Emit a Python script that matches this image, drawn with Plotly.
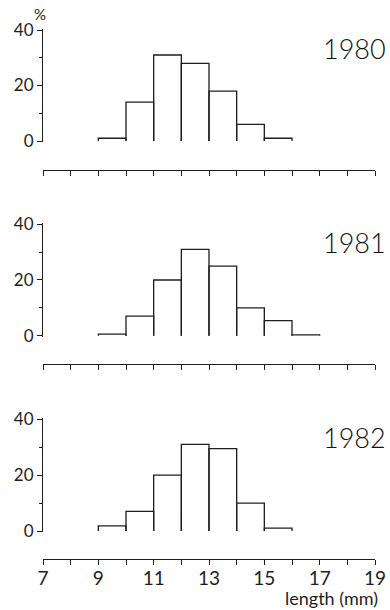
import plotly.graph_objects as go

# Data
bin_edges = [9, 10, 11, 12, 13, 14, 15, 16, 17]
years = ["1980", "1981", "1982"]
pct_1980 = [1, 14, 31, 28, 18, 6, 1]
pct_1981 = [0.6, 7, 20, 31, 25, 10, 5.4, 0.3]
pct_1982 = [1.8, 7, 20, 31, 29.5, 10, 1]
series = [pct_1980, pct_1981, pct_1982]
x_ticks = list(range(7, 20))
x_tick_labels = [str(v) if v % 2 == 1 else "" for v in x_ticks]
y_ticks = [0, 20, 40]
y_minor = [10, 30]

W, H = 390, 610
FONT = "Lato"
INK = "#1e1e1e"

# panel geometry in pixels: (y=0 pixel, y=40 pixel, x-axis pixel)
panels = [(141.0, 30.0, 170.0), (335.7, 224.3, 363.7), (531.0, 419.3, 559.0)]
x_left_px, x_right_px = 43.0, 375.0
YPAD = 0.4

fig = go.Figure()
layout = dict(width=W, height=H, margin=dict(l=0, r=0, t=0, b=0, autoexpand=False),
              plot_bgcolor="white", paper_bgcolor="white", showlegend=False,
              font=dict(family=FONT, color=INK))

for i, (vals, yr) in enumerate(zip(series, years)):
    n = i + 1
    xs, ys = [], []
    for j, h in enumerate(vals):
        a, b = bin_edges[j], bin_edges[j + 1]
        xs += [a, a, b, b, None]
        ys += [0, h, h, 0, None]
    xa = "x" if n == 1 else f"x{n}"
    ya = "y" if n == 1 else f"y{n}"
    fig.add_trace(go.Scatter(x=xs, y=ys, mode="lines", xaxis=xa, yaxis=ya,
                             line=dict(color=INK, width=1.3), hoverinfo="skip"))
    y0p, y40p, xap = panels[i]
    k = (y0p - y40p) / 40.0
    bot = y0p + YPAD * k
    top = y40p - YPAD * k
    last = (n == 3)
    layout[f"xaxis{'' if n == 1 else n}"] = dict(
        domain=[x_left_px / W, x_right_px / W], range=[7, 19],
        anchor="free", position=1 - xap / H, automargin=False,
        showline=True, linecolor=INK, linewidth=1.1,
        ticks="outside", ticklen=5, tickwidth=1, tickcolor=INK,
        tickmode="array", tickvals=x_ticks,
        ticktext=x_tick_labels if last else [""] * len(x_ticks),
        showticklabels=last, showgrid=False, zeroline=False,
        ticklabelstandoff=-3,
        tickfont=dict(size=19, family=FONT, color=INK, weight=400))
    layout[f"yaxis{'' if n == 1 else n}"] = dict(
        domain=[1 - bot / H, 1 - top / H], range=[-YPAD, 40 + YPAD],
        anchor=xa, automargin=False, showline=True, linecolor=INK, linewidth=1.1,
        ticks="outside", ticklen=5, tickwidth=1, tickcolor=INK,
        tickmode="array", tickvals=y_ticks, ticktext=[str(v) for v in y_ticks],
        minor=dict(tickvals=y_minor, ticklen=3, tickcolor=INK, ticks="outside"),
        showgrid=False, zeroline=False,
        tickfont=dict(size=17, family=FONT, color=INK, weight=400))

ann = []
year_y = [48, 243, 437]
for yr, yy in zip(years, year_y):
    ann.append(dict(text=yr, xref="paper", yref="paper", x=388 / W, y=1 - yy / H,
                    xanchor="right", yanchor="middle", showarrow=False,
                    font=dict(size=27, family=FONT, color="#111111", weight=300)))
ann.append(dict(text="%", xref="paper", yref="paper", x=40 / W, y=1 - 14 / H,
                xanchor="center", yanchor="middle", showarrow=False,
                font=dict(size=15, family=FONT, color=INK, weight=400)))
ann.append(dict(text="length (mm)", xref="paper", yref="paper", x=380 / W, y=1 - 598 / H,
                xanchor="right", yanchor="middle", showarrow=False,
                font=dict(size=18, family=FONT, color=INK, weight=400)))
layout["annotations"] = ann

fig.update_layout(**layout)
fig.write_html("out.html")
